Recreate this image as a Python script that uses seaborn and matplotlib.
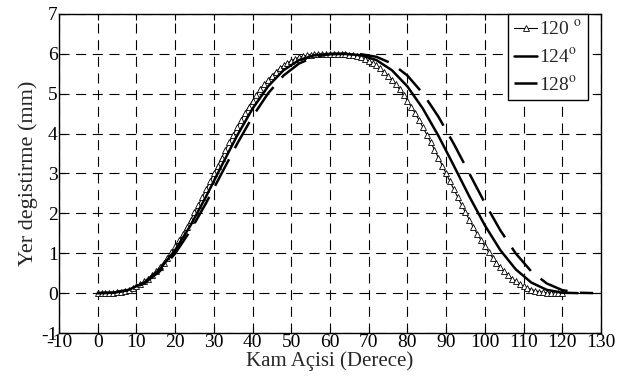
import pandas as pd
import matplotlib.pyplot as plt
import matplotlib.font_manager as fm
import seaborn as sns

# 120 degree profile, read every 1 degree (0..120)
x120 = list(range(0, 121))
y120 = [0.000, 0.000, 0.001, 0.005, 0.012, 0.023, 0.039, 0.061, 0.090, 0.127,
        0.173, 0.228, 0.292, 0.366, 0.450, 0.545, 0.650, 0.766, 0.892, 1.028,
        1.173, 1.327, 1.490, 1.661, 1.839, 2.023, 2.212, 2.405, 2.601, 2.800,
        3.000, 3.200, 3.399, 3.595, 3.788, 3.977, 4.161, 4.339, 4.510, 4.673,
        4.827, 4.972, 5.108, 5.234, 5.350, 5.455, 5.550, 5.634, 5.708, 5.772,
        5.827, 5.873, 5.910, 5.939, 5.961, 5.977, 5.988, 5.995, 5.999, 6.000,
        6.000,
        6.000, 5.999, 5.995, 5.988, 5.977, 5.961, 5.939, 5.910, 5.873, 5.827,
        5.772, 5.708, 5.634, 5.550, 5.455, 5.350, 5.234, 5.108, 4.972, 4.827,
        4.673, 4.510, 4.339, 4.161, 3.977, 3.788, 3.595, 3.399, 3.200, 3.000,
        2.800, 2.601, 2.405, 2.212, 2.023, 1.839, 1.661, 1.490, 1.327, 1.173,
        1.028, 0.892, 0.766, 0.650, 0.545, 0.450, 0.366, 0.292, 0.228, 0.173,
        0.127, 0.090, 0.061, 0.039, 0.023, 0.012, 0.005, 0.001, 0.000, 0.000]

x124 = [0, 4, 8, 12, 16, 20, 24, 28, 32, 36, 40, 44, 48, 52, 56, 60, 62,
        64, 68, 72, 76, 80, 84, 88, 92, 96, 100, 104, 108, 112, 116, 120, 124]
y124 = [0.000, 0.011, 0.082, 0.266, 0.595, 1.078, 1.701, 2.424, 3.193, 3.947,
        4.626, 5.183, 5.589, 5.843, 5.965, 5.999, 6.000,
        5.999, 5.965, 5.843, 5.589, 5.183, 4.626, 3.947, 3.193, 2.424, 1.701,
        1.078, 0.595, 0.266, 0.082, 0.011, 0.000]

x128 = [0, 4, 8, 12, 16, 20, 24, 28, 32, 36, 40, 44, 48, 52, 56, 60, 64,
        68, 72, 76, 80, 84, 88, 92, 96, 100, 104, 108, 112, 116, 120, 124, 128]
y128 = [0.000, 0.010, 0.075, 0.243, 0.545, 0.993, 1.575, 2.260, 3.000, 3.740,
        4.425, 5.007, 5.455, 5.757, 5.925, 5.990, 6.000,
        5.990, 5.925, 5.757, 5.455, 5.007, 4.425, 3.740, 3.000, 2.260, 1.575,
        0.993, 0.545, 0.243, 0.075, 0.010, 0.000]

sns.set_style("ticks")
installed = set(f.name for f in fm.fontManager.ttflist)
candidates = ['Liberation Serif', 'Tinos', 'Times New Roman', 'Nimbus Roman',
              'TeX Gyre Termes', 'STIX Two Text', 'STIXGeneral']
serif = [c for c in candidates if c in installed]
plt.rcParams['font.family'] = serif[:1] + ['DejaVu Serif']
plt.rcParams['mathtext.fontset'] = 'stix'
plt.rcParams['axes.unicode_minus'] = False

fig = plt.figure(figsize=(6.17, 3.77), dpi=100)
ax = fig.add_axes([0.0956, 0.1167, 0.8784, 0.8463])

sns.lineplot(x=x120, y=y120, ax=ax, color='black', lw=0.8, marker='^', markersize=5,
             markerfacecolor='white', markeredgecolor='black', markeredgewidth=0.6,
             label='120 $^{\\rm o}$', zorder=3)
sns.lineplot(x=x124, y=y124, ax=ax, color='black', lw=1.8, label='124$^{\\rm o}$', zorder=3)
sns.lineplot(x=x128, y=y128, ax=ax, color='black', lw=1.8, label='128$^{\\rm o}$', zorder=3)
ax.lines[2].set_linestyle((0, (12, 5)))

ax.set_xlim(-10, 130)
ax.set_ylim(-1, 7)
ax.set_xticks(range(-10, 131, 10))
ax.set_yticks(range(-1, 8))
ax.grid(True, color='black', linestyle=(0, (9, 6)), linewidth=0.8)
ax.tick_params(direction='in', top=True, right=True, length=4, width=0.8,
               labelsize=14, pad=1, colors='black')
for s in ax.spines.values():
    s.set_color('black')
    s.set_linewidth(1.0)

ax.set_xlabel('Kam Açisi (Derece)', fontsize=15, labelpad=0)
ax.set_ylabel('Yer degistirme (mm)', fontsize=16, labelpad=2)

leg = ax.legend(loc='upper right', bbox_to_anchor=(0.976, 1.0), fontsize=14,
                handlelength=1.2, handletextpad=0.1, borderpad=0.3,
                labelspacing=0.45, borderaxespad=0, fancybox=False, framealpha=1)
leg.get_frame().set_edgecolor('black')
leg.get_frame().set_linewidth(1.0)

fig.savefig('out.png', dpi=100)
